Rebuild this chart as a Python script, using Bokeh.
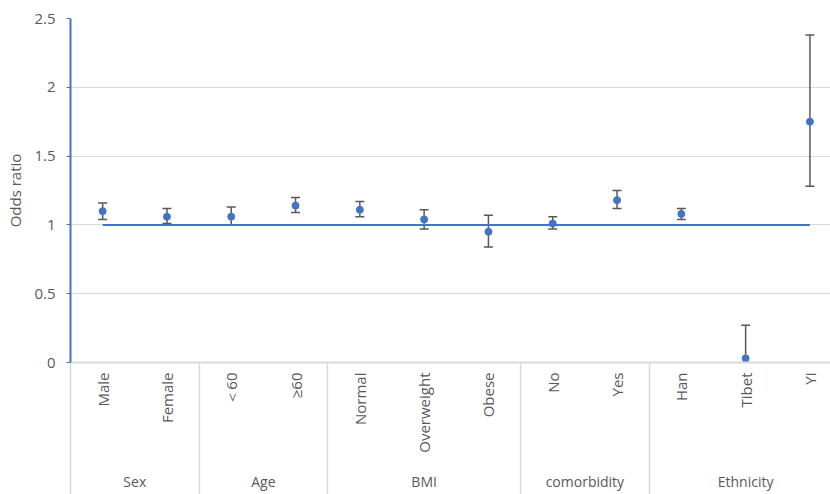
import math
from bokeh.plotting import figure
from bokeh.models import (Range1d, ColumnDataSource, Whisker, TeeHead,
                          LinearAxis, FixedTicker)
from bokeh.embed import file_html
from bokeh.resources import INLINE

# ---- data ----
groups = ["Sex", "Age", "BMI", "comorbidity", "Ethnicity"]
group_sizes = [2, 2, 3, 2, 3]
categories = ["Male", "Female", "＜60", "≥60", "Normal", "Overweight", "Obese",
              "No", "Yes", "Han", "Tibet", "Yi"]
odds_ratio = [1.10, 1.06, 1.06, 1.14, 1.11, 1.04, 0.95, 1.01, 1.18, 1.08, 0.03, 1.75]
ci_lower = [1.04, 1.01, 1.00, 1.09, 1.06, 0.97, 0.84, 0.97, 1.12, 1.04, 0.00, 1.28]
ci_upper = [1.16, 1.12, 1.13, 1.20, 1.17, 1.11, 1.07, 1.06, 1.25, 1.12, 0.27, 2.38]
reference = [1] * len(categories)
y_ticks = [0, 0.5, 1, 1.5, 2, 2.5]
y_tick_labels = ["0", "0.5", "1", "1.5", "2", "2.5"]

BLUE = "#4472C4"
GRAY_TXT = "#595959"
GRID = "#d9d9d9"
FONT = "Open Sans"

# category slots: one unit per category, centred in its slot
xpos = [i + 0.5 for i in range(len(categories))]
bounds = [0]
for s in group_sizes:
    bounds.append(bounds[-1] + s)
centers = [(bounds[i] + bounds[i + 1]) / 2 for i in range(len(groups))]

src = ColumnDataSource(dict(x=xpos, y=odds_ratio, lower=ci_lower,
                            upper=ci_upper, ref=reference))

# the original plot area runs slightly past the right edge of the picture
p = figure(width=830, height=494, x_range=Range1d(0, 11.82),
           y_range=Range1d(0, 2.5),
           output_backend="svg", toolbar_location=None,
           x_axis_location=None,
           min_border_left=70, min_border_right=0, min_border_top=18,
           min_border_bottom=132)
p.outline_line_color = None
p.background_fill_color = "white"

# grid
p.xgrid.grid_line_color = None
p.ygrid.grid_line_color = GRID
p.ygrid.grid_line_width = 1
p.ygrid.ticker = FixedTicker(ticks=y_ticks)

# y axis
ya = p.yaxis[0]
ya.ticker = FixedTicker(ticks=y_ticks)
ya.major_label_overrides = {t: l for t, l in zip(y_ticks, y_tick_labels)}
ya.axis_line_color = BLUE
ya.axis_line_width = 2
ya.major_tick_line_color = BLUE
ya.major_tick_out = 4
ya.major_tick_in = 0
ya.minor_tick_line_color = None
ya.major_label_standoff = 11
ya.major_label_text_font = FONT
ya.major_label_text_font_size = "15px"
ya.major_label_text_color = GRAY_TXT
ya.axis_label = "Odds ratio"
ya.axis_label_text_font = FONT
ya.axis_label_text_font_size = "15px"
ya.axis_label_text_font_style = "normal"
ya.axis_label_text_color = GRAY_TXT
ya.axis_label_standoff = 6

# x axis (categories)
xa = LinearAxis(ticker=FixedTicker(ticks=xpos))
xa.major_label_overrides = {x: c for x, c in zip(xpos, categories)}
xa.axis_line_color = GRID
xa.axis_line_width = 2
xa.major_tick_line_color = None
xa.major_tick_out = 0
xa.major_tick_in = 0
xa.minor_tick_line_color = None
xa.minor_tick_out = 0
xa.major_label_orientation = math.pi / 2
xa.major_label_standoff = 10
xa.major_label_text_font = FONT
xa.major_label_text_font_size = "15px"
xa.major_label_text_color = GRAY_TXT
p.add_layout(xa, "below")

# group labels
ga = LinearAxis(ticker=FixedTicker(ticks=centers))
ga.major_label_overrides = {c: g for c, g in zip(centers, groups)}
ga.axis_line_color = None
ga.major_tick_line_color = None
ga.minor_tick_line_color = None
ga.major_tick_in = 0
ga.major_tick_out = 0
ga.minor_tick_out = 0
ga.major_label_standoff = 16
ga.major_label_text_font = FONT
ga.major_label_text_font_size = "14px"
ga.major_label_text_color = GRAY_TXT
p.add_layout(ga, "below")

# group separators (minor ticks reaching up to the plot area)
sa = LinearAxis(ticker=FixedTicker(ticks=[], minor_ticks=bounds[:-1]))
sa.axis_line_color = None
sa.major_tick_line_color = None
sa.major_tick_out = 0
sa.major_tick_in = 0
sa.major_label_standoff = 0
sa.minor_tick_line_color = GRID
sa.minor_tick_line_width = 1.5
sa.minor_tick_in = 131
sa.minor_tick_out = 1
p.add_layout(sa, "below")

# reference line
p.line(x="x", y="ref", source=src, line_color=BLUE, line_width=2)

# error bars
wh = Whisker(base="x", lower="lower", upper="upper", source=src,
             line_color=GRAY_TXT, line_width=1.5,
             lower_head=TeeHead(size=9, line_color=GRAY_TXT, line_width=1.5),
             upper_head=TeeHead(size=9, line_color=GRAY_TXT, line_width=1.5))
wh.level = "underlay"
p.add_layout(wh)

# points
p.scatter(x="x", y="y", source=src, size=7, fill_color=BLUE, line_color=BLUE)

open("out.html", "w").write(file_html(p, INLINE))
